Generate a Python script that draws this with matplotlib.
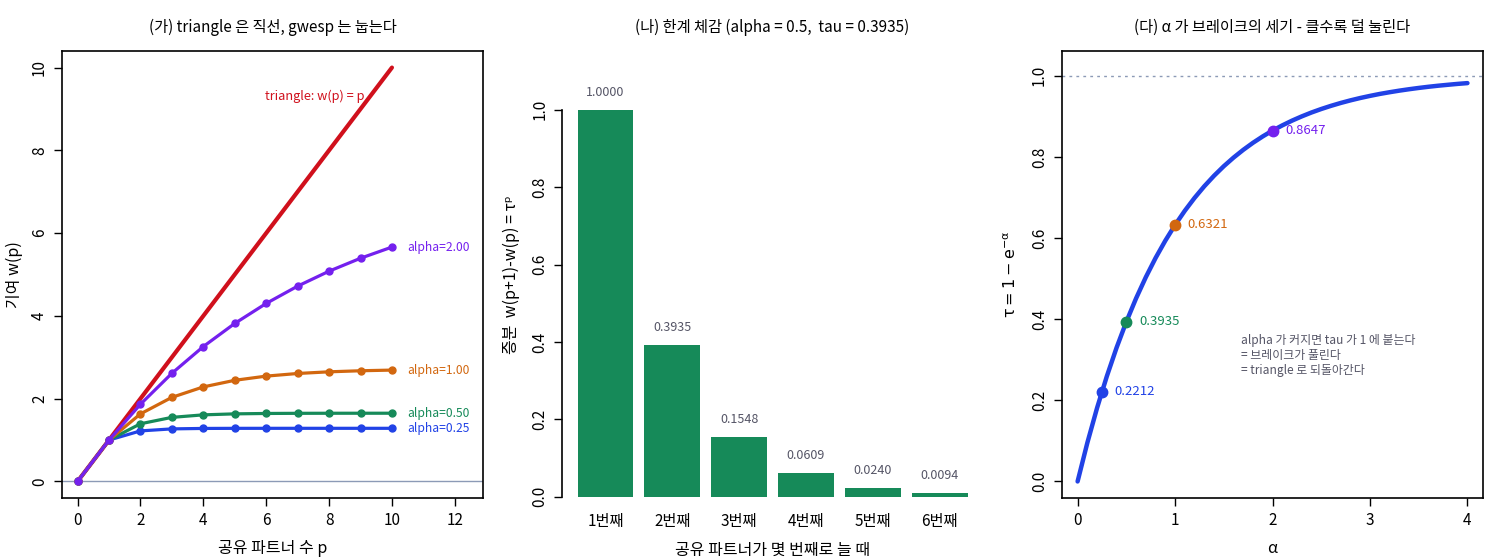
import numpy as np
import matplotlib
matplotlib.use("Agg")
import matplotlib.pyplot as plt

plt.rcParams['font.family'] = ['Noto Sans CJK KR', 'DejaVu Sans']
plt.rcParams['axes.unicode_minus'] = False

# ---- panel (가): contribution w(p) ----
p_vals = [0, 1, 2, 3, 4, 5, 6, 7, 8, 9, 10]
triangle_w = [0, 1, 2, 3, 4, 5, 6, 7, 8, 9, 10]
alpha_levels = ['0.25', '0.50', '1.00', '2.00']
w_a025 = [0, 1.0000, 1.2212, 1.2701, 1.2809, 1.2833, 1.2838, 1.2840, 1.2840, 1.2840, 1.2840]
w_a050 = [0, 1.0000, 1.3935, 1.5483, 1.6092, 1.6331, 1.6426, 1.6463, 1.6478, 1.6483, 1.6486]
w_a100 = [0, 1.0000, 1.6321, 2.0317, 2.2843, 2.4439, 2.5449, 2.6087, 2.6490, 2.6745, 2.6906]
w_a200 = [0, 1.0000, 1.8647, 2.6123, 3.2588, 3.8178, 4.3011, 4.7191, 5.0804, 5.3929, 5.6631]

# ---- panel (나): marginal gain for alpha = 0.5 ----
bar_labels = ['1번째', '2번째', '3번째', '4번째', '5번째', '6번째']
bar_values = [1.0000, 0.3935, 0.1548, 0.0609, 0.0240, 0.0094]

# ---- panel (다): tau = 1 - exp(-alpha) ----
alpha_grid = [0.0, 0.1, 0.2, 0.3, 0.4, 0.5, 0.6, 0.7, 0.8, 0.9, 1.0,
              1.1, 1.2, 1.3, 1.4, 1.5, 1.6, 1.7, 1.8, 1.9, 2.0,
              2.1, 2.2, 2.3, 2.4, 2.5, 2.6, 2.7, 2.8, 2.9, 3.0,
              3.1, 3.2, 3.3, 3.4, 3.5, 3.6, 3.7, 3.8, 3.9, 4.0]
tau_grid = [0.0000, 0.0952, 0.1813, 0.2592, 0.3297, 0.3935, 0.4512, 0.5034, 0.5507, 0.5934, 0.6321,
            0.6671, 0.6988, 0.7275, 0.7534, 0.7769, 0.7981, 0.8173, 0.8347, 0.8504, 0.8647,
            0.8775, 0.8892, 0.8997, 0.9093, 0.9179, 0.9257, 0.9328, 0.9392, 0.9450, 0.9502,
            0.9550, 0.9592, 0.9631, 0.9666, 0.9698, 0.9727, 0.9753, 0.9776, 0.9798, 0.9817]
alpha_pts = [0.25, 0.5, 1.0, 2.0]
tau_pts = [0.2212, 0.3935, 0.6321, 0.8647]

c_blue = '#2142E6'
c_green = '#168A59'
c_orange = '#D2670F'
c_purple = '#7420EE'
c_red = '#D0101C'
c_gray = '#555566'
c_ref = '#8C9AB6'
alpha_colors = [c_blue, c_green, c_orange, c_purple]

fig = plt.figure(figsize=(15, 5.6), dpi=100)
bottom, height = 0.1107, 0.7982
ax1 = fig.add_axes([0.0413, bottom, 0.2807, height])
ax2 = fig.add_axes([0.3747, bottom, 0.2807, height])
ax3 = fig.add_axes([0.7080, bottom, 0.2807, height])

TITLE_FS = 11
LABEL_FS = 11.5


def r_style(ax):
    ax.tick_params(direction='out', length=6, width=1, labelsize=11, pad=4)
    for lab in ax.get_yticklabels():
        lab.set_rotation(90)
        lab.set_va('center')
    for s in ax.spines.values():
        s.set_linewidth(1.2)


# panel 1
ax1.axhline(0, color=c_ref, lw=1.0, zorder=1)
ax1.plot(p_vals, triangle_w, color=c_red, lw=3.0, solid_capstyle='round', zorder=2)
for lvl, w, col in zip(alpha_levels, [w_a025, w_a050, w_a100, w_a200], alpha_colors):
    ax1.plot(p_vals, w, color=col, lw=2.3, marker='o', ms=5, zorder=3)
    ax1.text(10.48, w[-1], 'alpha=' + lvl, color=col, fontsize=8.7, ha='left', va='center')
ax1.text(7.56, 9.3, 'triangle: w(p) = p', color=c_red, fontsize=9.2, ha='center', va='center')
ax1.set_xlim(-0.496, 12.896)
ax1.set_ylim(-0.4, 10.4)
ax1.set_xticks([0, 2, 4, 6, 8, 10, 12])
ax1.set_yticks([0, 2, 4, 6, 8, 10])
ax1.set_title('(가) triangle 은 직선, gwesp 는 눕는다', fontsize=TITLE_FS, pad=14)
ax1.set_xlabel('공유 파트너 수 p', fontsize=LABEL_FS, labelpad=8)
ax1.set_ylabel('기여 w(p)', fontsize=LABEL_FS, labelpad=6)
r_style(ax1)

# panel 2
xpos = np.arange(len(bar_values)) * 1.2 + 0.7
ax2.bar(xpos, bar_values, width=1.0, color=c_green)
for x, v in zip(xpos, bar_values):
    ax2.text(x, v + 0.045, f'{v:.4f}', color=c_gray, fontsize=9, ha='center', va='center')
ax2.set_xlim(-0.08, 7.48)
ax2.set_ylim(-0.003, 1.152)
ax2.set_xticks(xpos)
ax2.set_xticklabels(bar_labels)
ax2.set_yticks([0, 0.2, 0.4, 0.6, 0.8, 1.0])
ax2.set_yticklabels(['0.0', '0.2', '0.4', '0.6', '0.8', '1.0'])
for s in ['top', 'right', 'bottom']:
    ax2.spines[s].set_visible(False)
ax2.spines['left'].set_bounds(0, 1.0)
ax2.set_title('(나) 한계 체감 (alpha = 0.5,  tau = 0.3935)', fontsize=TITLE_FS, pad=14)
ax2.set_xlabel('공유 파트너가 몇 번째로 늘 때', fontsize=LABEL_FS, labelpad=8)
ax2.set_ylabel('증분  w(p+1)-w(p) = τᵖ', fontsize=LABEL_FS, labelpad=8)
r_style(ax2)
ax2.tick_params(axis='x', length=0, pad=11)

# panel 3
ax3.axhline(1.0, color=c_ref, lw=1.0, ls=(0, (2, 3)), zorder=1)
ax3.plot(alpha_grid, tau_grid, color=c_blue, lw=3.2, solid_capstyle='round',
         solid_joinstyle='round', zorder=2)
for a, t, col in zip(alpha_pts, tau_pts, alpha_colors):
    ax3.plot([a], [t], 'o', color=col, ms=7.5, zorder=3)
    ax3.text(a + 0.13, t, f'{t:.4f}', color=col, fontsize=9.5, ha='left', va='center')
ax3.text(1.68, 0.31, 'alpha 가 커지면 tau 가 1 에 붙는다\n= 브레이크가 풀린다\n= triangle 로 되돌아간다',
         color=c_gray, fontsize=8.6, ha='left', va='center', linespacing=1.2)
ax3.set_xlim(-0.16, 4.16)
ax3.set_ylim(-0.0408, 1.0608)
ax3.set_xticks([0, 1, 2, 3, 4])
ax3.set_yticks([0, 0.2, 0.4, 0.6, 0.8, 1.0])
ax3.set_yticklabels(['0.0', '0.2', '0.4', '0.6', '0.8', '1.0'])
ax3.set_title('(다) α 가 브레이크의 세기 - 클수록 덜 눌린다', fontsize=TITLE_FS, pad=14)
ax3.set_xlabel('α', fontsize=LABEL_FS, labelpad=8)
ax3.set_ylabel(r'$\mathrm{\tau = 1 - e^{-\alpha}}$', fontsize=LABEL_FS, labelpad=8)
r_style(ax3)

fig.savefig('out.png', dpi=100)
